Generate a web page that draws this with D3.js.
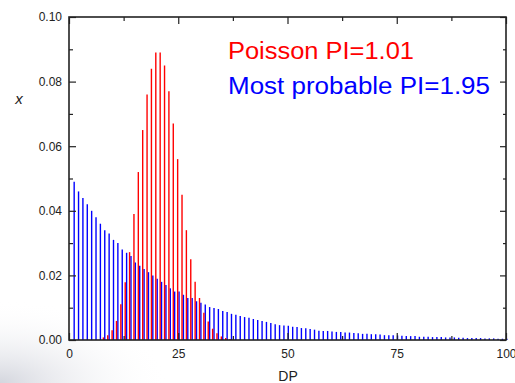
<!DOCTYPE html>
<html>
<head>
<meta charset="utf-8">
<script src="https://cdn.jsdelivr.net/npm/d3@7/dist/d3.min.js"></script>
<style>
  body { margin: 0; background: #fff; }
  text { font-family: "Liberation Sans", Arial, sans-serif; }
</style>
</head>
<body>
<div id="chart"></div>
<script>
// Degree of polymerisation for the two distributions
const poissonDP = d3.range(8, 38);
const poissonX = [0.0008, 0.0015, 0.003, 0.0059, 0.0111, 0.0179, 0.0272, 0.039, 0.052, 0.065,
  0.076, 0.084, 0.089, 0.089, 0.085, 0.077, 0.067, 0.056, 0.045, 0.034,
  0.025, 0.018, 0.013, 0.0084, 0.0057, 0.0035, 0.0021, 0.0011, 0.0006, 0.0003];

const probableDP = d3.range(1, 101);
const probableX = [0.049, 0.046, 0.044, 0.042, 0.040, 0.038, 0.036, 0.034, 0.033, 0.031,
  0.030, 0.028, 0.027, 0.026, 0.024, 0.023, 0.022, 0.021, 0.020, 0.019,
  0.018, 0.017, 0.016, 0.015, 0.015, 0.014, 0.013, 0.013, 0.012, 0.0115,
  0.011, 0.0102, 0.0099, 0.0096, 0.009, 0.0087, 0.0081, 0.0078, 0.0074, 0.0071,
  0.0069, 0.0065, 0.0062, 0.0059, 0.0056, 0.0053, 0.0049, 0.0046, 0.0045, 0.0044,
  0.0041, 0.0040, 0.0037, 0.0036, 0.0034, 0.0032, 0.0029, 0.0028, 0.0028, 0.0026,
  0.0025, 0.0025, 0.0023, 0.0023, 0.0022, 0.0021, 0.0019, 0.0019, 0.0018, 0.0018,
  0.0017, 0.0015, 0.0015, 0.0015, 0.0014, 0.0013, 0.0012, 0.0012, 0.0012, 0.0010,
  0.0010, 0.0010, 0.0009, 0.0009, 0.0009, 0.0008, 0.0008, 0.0008, 0.0007, 0.0007,
  0.0006, 0.0006, 0.0006, 0.0006, 0.0005, 0.0005, 0.0005, 0.0004, 0.0004, 0.0004];

const xTicks = [0, 25, 50, 75, 100];
const xMinor = [12.5, 37.5, 62.5, 87.5];
const yTicks = [0, 0.02, 0.04, 0.06, 0.08, 0.10];
const yMinor = [0.01, 0.03, 0.05, 0.07, 0.09];

const width = 515, height = 383;
const plotLeft = 69, plotRight = 506, plotTop = 17, plotBottom = 340;

const svg = d3.select('#chart')
  .append('svg')
    .attr('width', width)
    .attr('height', height);

// soft grey shading in the lower left corner
const grad = svg.append('defs').append('radialGradient')
  .attr('id', 'shade')
  .attr('cx', 0).attr('cy', 1).attr('r', 1);
grad.append('stop').attr('offset', '0%').attr('stop-color', '#d4d6de');
grad.append('stop').attr('offset', '100%').attr('stop-color', '#ffffff').attr('stop-opacity', 0);
svg.append('rect')
  .attr('x', 0).attr('y', 300)
  .attr('width', 170).attr('height', 83)
  .attr('fill', 'url(#shade)');

const x = d3.scaleLinear().domain([0, 100]).range([plotLeft, plotRight]);
const y = d3.scaleLinear().domain([0, 0.1]).range([plotBottom, plotTop]);

// bars
const blue = probableDP.map((d, i) => ({ dp: d, v: probableX[i] }));
const red = poissonDP.map((d, i) => ({ dp: d, v: poissonX[i] }));

svg.append('g').selectAll('line')
  .data(blue)
  .enter()
  .append('line')
    .attr('x1', d => x(d.dp) + 0.8)
    .attr('x2', d => x(d.dp) + 0.8)
    .attr('y1', y(0))
    .attr('y2', d => y(d.v))
    .attr('stroke', '#0000ff')
    .attr('stroke-width', 1.4);

svg.append('g').selectAll('line')
  .data(red)
  .enter()
  .append('line')
    .attr('x1', d => x(d.dp) - 0.6)
    .attr('x2', d => x(d.dp) - 0.6)
    .attr('y1', y(0))
    .attr('y2', d => y(d.v))
    .attr('stroke', '#ff0000')
    .attr('stroke-width', 1.4);

// axes, ticks pointing inward
function styleAxis(g) {
  g.select('.domain').remove();
  g.selectAll('line').attr('stroke', '#222').attr('stroke-width', 1.2);
  g.selectAll('text')
    .attr('fill', '#222')
    .style('font-family', '"Liberation Sans", Arial, sans-serif')
    .style('font-size', '12px');
}

svg.append('g')
  .attr('transform', 'translate(' + plotLeft + ',0)')
  .call(d3.axisLeft(y).tickValues(yTicks).tickSize(-7).tickPadding(7).tickFormat(d3.format('.2f')))
  .call(styleAxis);
svg.append('g')
  .attr('transform', 'translate(' + plotLeft + ',0)')
  .call(d3.axisLeft(y).tickValues(yMinor).tickSize(-4).tickFormat(''))
  .call(styleAxis);

svg.append('g')
  .attr('transform', 'translate(' + plotRight + ',0)')
  .call(d3.axisRight(y).tickValues(yTicks).tickSize(-6).tickFormat(''))
  .call(styleAxis);
svg.append('g')
  .attr('transform', 'translate(' + plotRight + ',0)')
  .call(d3.axisRight(y).tickValues(yMinor).tickSize(-3).tickFormat(''))
  .call(styleAxis);

svg.append('g')
  .attr('transform', 'translate(0,' + plotBottom + ')')
  .call(d3.axisBottom(x).tickValues(xTicks).tickSize(-7).tickPadding(9))
  .call(styleAxis);
svg.append('g')
  .attr('transform', 'translate(0,' + plotBottom + ')')
  .call(d3.axisBottom(x).tickValues(xMinor).tickSize(-4).tickFormat(''))
  .call(styleAxis);

svg.append('g')
  .attr('transform', 'translate(0,' + plotTop + ')')
  .call(d3.axisTop(x).tickValues(xTicks).tickSize(-7).tickFormat(''))
  .call(styleAxis);
svg.append('g')
  .attr('transform', 'translate(0,' + plotTop + ')')
  .call(d3.axisTop(x).tickValues(xMinor).tickSize(-4).tickFormat(''))
  .call(styleAxis);

// frame
svg.append('rect')
  .attr('x', plotLeft).attr('y', plotTop)
  .attr('width', plotRight - plotLeft).attr('height', plotBottom - plotTop)
  .attr('fill', 'none')
  .attr('stroke', '#222')
  .attr('stroke-width', 1.6);

// axis titles
svg.append('text')
  .attr('x', 19).attr('y', 104)
  .attr('text-anchor', 'middle')
  .style('font-style', 'italic')
  .style('font-size', '15px')
  .attr('fill', '#222')
  .text('x');

svg.append('text')
  .attr('x', 288).attr('y', 381)
  .attr('text-anchor', 'middle')
  .style('font-size', '14px')
  .attr('fill', '#222')
  .text('DP');

// legend
svg.append('text')
  .attr('x', 228).attr('y', 59)
  .attr('textLength', 186)
  .attr('lengthAdjust', 'spacingAndGlyphs')
  .style('font-size', '23px')
  .attr('fill', '#ff0000')
  .text('Poisson PI=1.01');

svg.append('text')
  .attr('x', 228).attr('y', 94)
  .attr('textLength', 262)
  .attr('lengthAdjust', 'spacingAndGlyphs')
  .style('font-size', '23px')
  .attr('fill', '#0000ff')
  .text('Most probable PI=1.95');
</script>
</body>
</html>
